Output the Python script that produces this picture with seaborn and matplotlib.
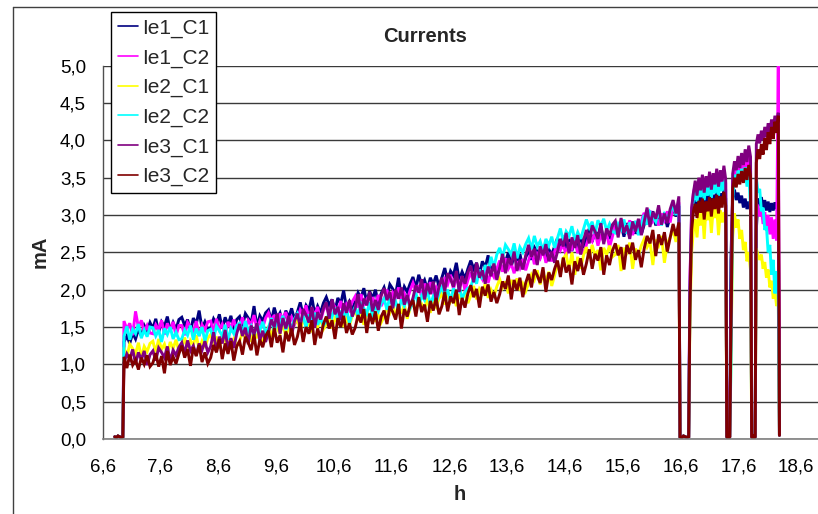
import numpy as np
import pandas as pd
import matplotlib
matplotlib.use("Agg")
import matplotlib.pyplot as plt
from matplotlib.lines import Line2D
import seaborn as sns

# ---- logged electrode currents (mA) over the day (h) ----
series_names = ["Ie1_C1", "Ie1_C2", "Ie2_C1", "Ie2_C2", "Ie3_C1", "Ie3_C2"]
series_colors = ["#000080", "#FF00FF", "#FFFF00", "#00FFFF", "#800080", "#800000"]

# time spans (h) of the four running periods and of the idle periods
run_spans = [(6.97, 16.57), (16.76, 17.38), (17.47, 17.81), (17.91, 18.29)]
idle_spans = [(6.81, 6.95), (16.59, 16.74), (17.40, 17.45), (17.83, 17.89)]
idle_level = [0.03, 0.02, 0.04, 0.03, 0.02, 0.03]
shutdown = (18.31, 0.05)

ie1_c1 = [
    [1.30, 1.38, 1.28, 1.42, 1.34, 1.47, 1.38, 1.52, 1.44, 1.56,
     1.48, 1.61, 1.43, 1.57, 1.51, 1.64, 1.45, 1.56, 1.47, 1.60,
     1.63, 1.52, 1.60, 1.44, 1.62, 1.54, 1.72, 1.48, 1.57, 1.47,
     1.49, 1.61, 1.54, 1.67, 1.48, 1.63, 1.53, 1.65, 1.46, 1.60,
     1.64, 1.51, 1.68, 1.62, 1.55, 1.78, 1.50, 1.65, 1.58, 1.69,
     1.73, 1.58, 1.76, 1.62, 1.69, 1.56, 1.72, 1.63, 1.75, 1.60,
     1.70, 1.83, 1.65, 1.79, 1.73, 1.90, 1.67, 1.78, 1.69, 1.82,
     1.90, 1.79, 1.87, 1.71, 1.89, 1.81, 1.99, 1.75, 1.84, 1.74,
     1.84, 1.96, 1.89, 2.02, 1.83, 1.98, 1.88, 2.00, 1.81, 1.95,
     2.03, 1.90, 2.07, 2.01, 1.94, 2.16, 1.89, 2.04, 1.97, 2.08,
     2.17, 2.02, 2.20, 2.06, 2.13, 2.00, 2.16, 2.07, 2.19, 2.04,
     2.16, 2.29, 2.11, 2.25, 2.19, 2.36, 2.13, 2.24, 2.15, 2.28,
     2.39, 2.28, 2.36, 2.20, 2.38, 2.30, 2.46, 2.24, 2.33, 2.23,
     2.32, 2.44, 2.37, 2.50, 2.31, 2.46, 2.36, 2.48, 2.29, 2.43,
     2.53, 2.40, 2.57, 2.51, 2.44, 2.59, 2.39, 2.54, 2.47, 2.58,
     2.69, 2.54, 2.72, 2.58, 2.65, 2.52, 2.68, 2.59, 2.71, 2.56,
     2.69, 2.82, 2.64, 2.78, 2.72, 2.85, 2.66, 2.77, 2.68, 2.81,
     2.90, 2.79, 2.87, 2.71, 2.89, 2.81, 2.91, 2.75, 2.84, 2.74,
     2.87, 2.99, 2.92, 3.05, 2.86, 3.01, 2.91, 3.03, 2.84, 2.98,
     3.09, 2.98, 3.12],
    [1.75, 2.85, 3.12, 3.20, 3.08, 3.24, 3.13, 3.28, 3.10, 3.26, 3.15,
     3.30, 3.12, 3.27, 3.18, 3.32, 3.14, 3.29, 3.20, 3.34, 3.22],
    [2.40, 3.25, 3.34, 3.20, 3.30, 3.16, 3.26, 3.10, 3.22, 3.08, 3.18, 3.06],
    [2.80, 3.22, 3.12, 3.24, 3.08, 3.20, 3.06, 3.18, 3.04, 3.16, 3.06, 3.17, 3.08, 3.18],
]

ie1_c2 = [
    [1.58, 1.47, 1.55, 1.39, 1.71, 1.49, 1.59, 1.43, 1.52, 1.42,
     1.41, 1.53, 1.46, 1.59, 1.40, 1.55, 1.45, 1.57, 1.38, 1.52,
     1.52, 1.39, 1.56, 1.50, 1.43, 1.58, 1.38, 1.53, 1.46, 1.57,
     1.58, 1.43, 1.61, 1.47, 1.54, 1.41, 1.57, 1.48, 1.60, 1.45,
     1.50, 1.63, 1.45, 1.59, 1.53, 1.66, 1.47, 1.58, 1.49, 1.62,
     1.69, 1.58, 1.66, 1.50, 1.68, 1.60, 1.70, 1.54, 1.63, 1.53,
     1.61, 1.73, 1.66, 1.79, 1.60, 1.75, 1.65, 1.77, 1.58, 1.72,
     1.79, 1.66, 1.83, 1.77, 1.70, 1.85, 1.65, 1.80, 1.73, 1.84,
     1.91, 1.76, 1.94, 1.80, 1.87, 1.74, 1.90, 1.81, 1.93, 1.78,
     1.87, 2.00, 1.82, 1.96, 1.90, 2.03, 1.84, 1.95, 1.86, 1.99,
     2.09, 1.98, 2.06, 1.90, 2.08, 2.00, 2.10, 1.94, 2.03, 1.93,
     2.02, 2.14, 2.07, 2.20, 2.01, 2.16, 2.06, 2.18, 1.99, 2.13,
     2.23, 2.10, 2.27, 2.21, 2.14, 2.29, 2.09, 2.24, 2.17, 2.28,
     2.39, 2.24, 2.42, 2.28, 2.35, 2.22, 2.38, 2.29, 2.41, 2.26,
     2.39, 2.52, 2.34, 2.48, 2.42, 2.55, 2.36, 2.47, 2.38, 2.51,
     2.64, 2.53, 2.61, 2.45, 2.63, 2.55, 2.65, 2.49, 2.58, 2.48,
     2.60, 2.72, 2.65, 2.78, 2.59, 2.74, 2.64, 2.76, 2.57, 2.71,
     2.87, 2.74, 2.91, 2.85, 2.78, 2.93, 2.73, 2.88, 2.81, 2.92,
     3.03, 2.88, 3.06, 2.92, 2.99, 2.86, 3.02, 2.93, 3.05, 2.90,
     3.14, 3.02, 3.17],
    [2.10, 3.05, 3.30, 3.40, 3.26, 3.44, 3.31, 3.47, 3.28, 3.46, 3.34,
     3.50, 3.32, 3.49, 3.37, 3.54, 3.35, 3.52, 3.40, 3.57, 3.43],
    [1.40, 3.40, 3.64, 3.52, 3.70, 3.56, 3.74, 3.60, 3.77, 3.63, 3.80, 3.66],
    [3.15, 3.12, 2.98, 3.10, 2.88, 3.04, 2.80, 3.00, 2.74, 2.97, 2.68, 2.94, 2.66, 5.00],
]

ie2_c1 = [
    [1.23, 1.10, 1.27, 1.21, 1.14, 1.29, 1.09, 1.24, 1.17, 1.28,
     1.31, 1.16, 1.34, 1.20, 1.27, 1.14, 1.30, 1.21, 1.33, 1.18,
     1.23, 1.36, 1.18, 1.32, 1.26, 1.39, 1.20, 1.31, 1.22, 1.35,
     1.40, 1.29, 1.37, 1.21, 1.39, 1.31, 1.41, 1.25, 1.34, 1.24,
     1.31, 1.43, 1.36, 1.49, 1.30, 1.45, 1.35, 1.47, 1.28, 1.42,
     1.50, 1.37, 1.54, 1.48, 1.41, 1.56, 1.36, 1.51, 1.44, 1.55,
     1.60, 1.45, 1.63, 1.49, 1.56, 1.43, 1.59, 1.50, 1.62, 1.47,
     1.53, 1.66, 1.48, 1.62, 1.56, 1.69, 1.50, 1.61, 1.52, 1.65,
     1.72, 1.61, 1.69, 1.53, 1.71, 1.63, 1.73, 1.57, 1.66, 1.56,
     1.64, 1.76, 1.69, 1.82, 1.63, 1.78, 1.68, 1.80, 1.61, 1.75,
     1.83, 1.70, 1.87, 1.81, 1.74, 1.89, 1.69, 1.84, 1.77, 1.88,
     1.95, 1.80, 1.98, 1.84, 1.91, 1.78, 1.94, 1.85, 1.97, 1.82,
     1.92, 2.05, 1.87, 2.01, 1.95, 2.08, 1.89, 2.00, 1.91, 2.04,
     2.14, 2.03, 2.11, 1.95, 2.13, 2.05, 2.15, 1.99, 2.08, 1.98,
     2.08, 2.20, 2.13, 2.26, 2.07, 2.22, 2.12, 2.24, 2.05, 2.19,
     2.35, 2.22, 2.42, 2.47, 2.26, 2.50, 2.20, 2.44, 2.28, 2.46,
     2.57, 2.42, 2.60, 2.46, 2.53, 2.26, 2.56, 2.47, 2.59, 2.44,
     2.47, 2.60, 2.25, 2.56, 2.50, 2.63, 2.28, 2.55, 2.46, 2.59,
     2.68, 2.57, 2.65, 2.33, 2.67, 2.59, 2.72, 2.36, 2.62, 2.70,
     2.80, 2.64, 2.84],
    [1.55, 2.50, 2.80, 2.94, 2.70, 3.02, 2.86, 3.07, 2.68, 3.10, 2.93,
     3.12, 2.76, 3.08, 2.96, 3.11, 2.73, 3.06, 2.90, 3.04, 2.86],
    [1.00, 2.70, 3.02, 2.83, 2.94, 2.68, 2.80, 2.53, 2.64, 2.38, 2.50, 2.26],
    [2.55, 2.46, 2.40, 2.47, 2.28, 2.37, 2.16, 2.27, 2.03, 2.12, 1.88, 2.00, 1.78, 1.90],
]

ie2_c2 = [
    [1.38, 1.51, 1.33, 1.47, 1.41, 1.54, 1.35, 1.46, 1.37, 1.50,
     1.49, 1.38, 1.46, 1.30, 1.48, 1.40, 1.50, 1.34, 1.43, 1.33,
     1.34, 1.46, 1.39, 1.52, 1.33, 1.48, 1.38, 1.50, 1.31, 1.45,
     1.47, 1.34, 1.51, 1.45, 1.38, 1.53, 1.33, 1.48, 1.41, 1.52,
     1.55, 1.40, 1.58, 1.44, 1.51, 1.38, 1.54, 1.45, 1.57, 1.42,
     1.49, 1.62, 1.44, 1.58, 1.52, 1.65, 1.46, 1.57, 1.48, 1.61,
     1.68, 1.57, 1.65, 1.49, 1.67, 1.59, 1.69, 1.53, 1.62, 1.52,
     1.58, 1.70, 1.63, 1.76, 1.57, 1.72, 1.62, 1.74, 1.55, 1.69,
     1.77, 1.64, 1.81, 1.75, 1.68, 1.83, 1.63, 1.78, 1.71, 1.82,
     1.88, 1.73, 1.91, 1.77, 1.84, 1.71, 1.87, 1.78, 1.90, 1.75,
     1.83, 1.96, 1.78, 1.92, 1.86, 1.99, 1.80, 1.91, 1.82, 1.95,
     2.03, 1.92, 2.00, 1.84, 2.02, 1.94, 2.04, 1.88, 1.97, 2.02,
     2.04, 2.16, 2.08, 2.27, 2.14, 2.33, 2.24, 2.44, 2.30, 2.47,
     2.56, 2.43, 2.60, 2.54, 2.47, 2.62, 2.42, 2.57, 2.50, 2.61,
     2.69, 2.54, 2.72, 2.58, 2.65, 2.52, 2.68, 2.59, 2.71, 2.56,
     2.69, 2.82, 2.64, 2.78, 2.72, 2.85, 2.66, 2.77, 2.68, 2.81,
     2.94, 2.83, 2.91, 2.75, 2.93, 2.85, 2.95, 2.79, 2.88, 2.78,
     2.76, 2.88, 2.81, 2.94, 2.75, 2.90, 2.80, 2.92, 2.73, 2.87,
     3.00, 2.87, 3.04, 2.98, 2.91, 3.06, 2.86, 3.01, 2.94, 3.05,
     3.12, 3.00, 3.14],
    [1.85, 2.95, 3.22, 3.32, 3.18, 3.37, 3.24, 3.40, 3.20, 3.38, 3.26,
     3.42, 3.23, 3.41, 3.29, 3.45, 3.26, 3.44, 3.32, 3.47, 3.34],
    [0.90, 3.20, 3.54, 3.43, 3.60, 3.46, 3.62, 3.48, 3.64, 3.38, 3.57, 3.10],
    [3.50, 3.30, 3.35, 3.05, 3.10, 2.80, 2.85, 2.50, 2.60, 2.20, 2.40, 1.95, 2.25, 1.90],
]

ie3_c1 = [
    [1.02, 1.14, 1.07, 1.20, 1.01, 1.16, 1.06, 1.18, 0.99, 1.13,
     1.18, 1.05, 1.22, 1.16, 1.09, 1.24, 1.04, 1.19, 1.12, 1.23,
     1.29, 1.14, 1.32, 1.18, 1.25, 1.12, 1.28, 1.19, 1.31, 1.16,
     1.24, 1.43, 1.17, 1.37, 1.28, 1.46, 1.20, 1.35, 1.22, 1.41,
     1.54, 1.38, 1.49, 1.27, 1.52, 1.40, 1.55, 1.32, 1.45, 1.30,
     1.43, 1.60, 1.50, 1.68, 1.41, 1.62, 1.48, 1.65, 1.39, 1.58,
     1.68, 1.50, 1.74, 1.66, 1.56, 1.77, 1.49, 1.70, 1.60, 1.75,
     1.83, 1.61, 1.87, 1.67, 1.77, 1.59, 1.82, 1.69, 1.86, 1.64,
     1.75, 1.94, 1.68, 1.88, 1.79, 1.97, 1.71, 1.86, 1.73, 1.92,
     2.02, 1.86, 1.97, 1.75, 2.00, 1.88, 2.03, 1.80, 1.93, 1.78,
     1.89, 2.06, 1.96, 2.14, 1.87, 2.08, 1.94, 2.11, 1.85, 2.04,
     2.16, 1.98, 2.22, 2.14, 2.04, 2.25, 1.97, 2.18, 2.08, 2.23,
     2.32, 2.10, 2.36, 2.16, 2.26, 2.08, 2.31, 2.18, 2.35, 2.13,
     2.29, 2.48, 2.22, 2.42, 2.33, 2.51, 2.25, 2.40, 2.27, 2.46,
     2.60, 2.44, 2.55, 2.33, 2.58, 2.46, 2.61, 2.38, 2.51, 2.36,
     2.51, 2.68, 2.58, 2.76, 2.49, 2.70, 2.56, 2.73, 2.47, 2.66,
     2.80, 2.62, 2.86, 2.78, 2.68, 2.89, 2.61, 2.82, 2.72, 2.87,
     2.92, 2.70, 2.96, 2.76, 2.86, 2.68, 2.91, 2.78, 2.95, 2.73,
     2.91, 3.10, 2.84, 3.04, 2.95, 3.13, 2.87, 3.02, 2.89, 3.08,
     3.20, 3.02, 3.25],
    [2.00, 3.10, 3.30, 3.46, 3.26, 3.50, 3.33, 3.54, 3.30, 3.52, 3.37,
     3.58, 3.34, 3.56, 3.41, 3.62, 3.38, 3.60, 3.45, 3.66, 3.48],
    [1.60, 3.55, 3.72, 3.60, 3.79, 3.63, 3.83, 3.67, 3.88, 3.71, 3.93, 3.78],
    [3.95, 4.08, 3.96, 4.13, 4.00, 4.18, 4.04, 4.23, 4.08, 4.28, 4.13, 4.33, 4.18, 4.37],
]

ie3_c2 = [
    [1.10, 0.95, 1.13, 0.99, 1.06, 0.93, 1.09, 1.00, 1.12, 0.97,
     1.02, 1.15, 0.97, 1.11, 0.88, 1.18, 0.99, 1.10, 1.01, 1.14,
     1.25, 1.09, 1.20, 0.98, 1.23, 1.11, 1.26, 1.03, 1.16, 1.01,
     1.09, 1.26, 1.16, 1.34, 1.07, 1.28, 1.14, 1.31, 1.05, 1.24,
     1.31, 1.13, 1.37, 1.29, 1.19, 1.40, 1.12, 1.33, 1.23, 1.38,
     1.45, 1.23, 1.49, 1.29, 1.39, 1.16, 1.44, 1.31, 1.48, 1.26,
     1.37, 1.56, 1.30, 1.50, 1.41, 1.59, 1.26, 1.48, 1.35, 1.54,
     1.64, 1.48, 1.59, 1.34, 1.62, 1.50, 1.65, 1.42, 1.55, 1.40,
     1.49, 1.66, 1.56, 1.74, 1.42, 1.68, 1.54, 1.71, 1.45, 1.64,
     1.72, 1.54, 1.78, 1.70, 1.60, 1.81, 1.48, 1.74, 1.64, 1.79,
     1.86, 1.64, 1.90, 1.70, 1.80, 1.57, 1.85, 1.72, 1.89, 1.67,
     1.78, 1.97, 1.71, 1.91, 1.82, 2.00, 1.66, 1.89, 1.76, 1.95,
     2.06, 1.90, 2.01, 1.76, 2.04, 1.92, 2.07, 1.84, 1.97, 1.82,
     1.94, 2.11, 2.01, 2.19, 1.87, 2.13, 1.99, 2.16, 1.90, 2.09,
     2.21, 2.03, 2.27, 2.19, 2.09, 2.30, 1.97, 2.23, 2.13, 2.28,
     2.39, 2.17, 2.43, 2.23, 2.33, 2.07, 2.38, 2.25, 2.42, 2.20,
     2.35, 2.54, 2.28, 2.48, 2.39, 2.57, 2.20, 2.46, 2.33, 2.52,
     2.62, 2.46, 2.57, 2.27, 2.60, 2.48, 2.63, 2.40, 2.53, 2.30,
     2.55, 2.72, 2.62, 2.80, 2.45, 2.74, 2.60, 2.77, 2.51, 2.70,
     2.88, 2.72, 2.90],
    [1.70, 2.80, 3.05, 3.15, 2.96, 3.19, 3.03, 3.22, 2.94, 3.18, 3.05,
     3.24, 2.98, 3.22, 3.08, 3.27, 3.02, 3.25, 3.10, 3.31, 3.13],
    [1.30, 3.35, 3.50, 3.37, 3.55, 3.41, 3.59, 3.43, 3.63, 3.47, 3.67, 3.52],
    [3.70, 3.88, 3.75, 3.95, 3.81, 4.03, 3.87, 4.11, 3.95, 4.18, 4.02, 4.25, 4.10, 4.33],
]

all_runs = [ie1_c1, ie1_c2, ie2_c1, ie2_c2, ie3_c1, ie3_c2]

x_ticks = [6.6, 7.6, 8.6, 9.6, 10.6, 11.6, 12.6, 13.6, 14.6, 15.6, 16.6, 17.6, 18.6]
y_ticks = [0.0, 0.5, 1.0, 1.5, 2.0, 2.5, 3.0, 3.5, 4.0, 4.5, 5.0]


def series_frame(name, runs):
    """Idle, run, idle, run ... samples of one channel as a long table."""
    t_parts, v_parts = [], []
    for (i0, i1), (r0, r1), run in zip(idle_spans, run_spans, runs):
        t_parts.append(np.linspace(i0, i1, len(idle_level)))
        v_parts.append(np.asarray(idle_level))
        t_parts.append(np.linspace(r0, r1, len(run)))
        v_parts.append(np.asarray(run))
    t_parts.append(np.array([shutdown[0]]))
    v_parts.append(np.array([shutdown[1]]))
    return pd.DataFrame({"h": np.concatenate(t_parts),
                         "mA": np.concatenate(v_parts),
                         "series": name})


df = pd.concat([series_frame(n, r) for n, r in zip(series_names, all_runs)],
               ignore_index=True)

sns.set_theme(style="white")
plt.rcParams["font.family"] = ["Liberation Sans", "DejaVu Sans"]

W, H = 818, 514
fig = plt.figure(figsize=(W / 100, H / 100), dpi=100)
ax_left, ax_right, ax_top, ax_bottom = 102.6, 818, 65.7, 439
ax = fig.add_axes([ax_left / W, 1 - ax_bottom / H,
                   (ax_right - ax_left) / W, (ax_bottom - ax_top) / H])

sns.lineplot(data=df, x="h", y="mA", hue="series", hue_order=series_names,
             palette=series_colors, estimator=None, errorbar=None, sort=False,
             linewidth=2.1, ax=ax, legend=False)
for line in ax.get_lines():
    line.set_solid_joinstyle("miter")

ax.set_xlim(6.6, 6.6 + (ax_right - ax_left) / 57.8)
ax.set_ylim(0, 5.0)
ax.set_xticks(x_ticks)
ax.set_xticklabels([f"{v:.1f}".replace(".", ",") for v in x_ticks])
ax.set_yticks(y_ticks)
ax.set_yticklabels([f"{v:.1f}".replace(".", ",") for v in y_ticks])
ax.tick_params(axis="both", which="major", direction="out", length=5,
               width=1, color="#404040", labelsize=13.5, labelcolor="black")
ax.tick_params(axis="x", pad=9)
ax.tick_params(axis="y", pad=7)
ax.set_xlabel("")
ax.set_ylabel("")

ax.yaxis.grid(True, color="#3a3a3a", linewidth=1.0)
ax.xaxis.grid(False)
ax.set_axisbelow(True)
for side in ("top", "right"):
    ax.spines[side].set_visible(False)
ax.spines["left"].set_color("#505050")
ax.spines["bottom"].set_color("#808080")
ax.spines["left"].set_linewidth(1.0)
ax.spines["bottom"].set_linewidth(1.2)

handles = [Line2D([0], [0], color=c, lw=1.2) for c in series_colors]
leg = ax.legend(handles, series_names, loc="upper left",
                bbox_to_anchor=(111 / W, 1 - 12 / H), bbox_transform=fig.transFigure,
                frameon=True, fancybox=False, framealpha=1, edgecolor="black",
                fontsize=15, handlelength=0.96, handletextpad=0.22,
                labelspacing=0.5, borderpad=0.32, borderaxespad=0)
leg.get_frame().set_linewidth(1.0)

fig.text(425 / W, 1 - 37 / H, "Currents", ha="center", va="center",
         fontsize=14.5, fontweight="bold")
fig.text(40 / W, 1 - 252 / H, "mA", ha="center", va="center", rotation=90,
         fontsize=14.5, fontweight="bold")
fig.text(460 / W, 1 - 494 / H, "h", ha="center", va="center",
         fontsize=14.5, fontweight="bold")

# chart-area frame
fig.add_artist(Line2D([13 / W, 13 / W], [0, 1 - 7 / H], transform=fig.transFigure,
                      color="#404040", lw=1.0))
fig.add_artist(Line2D([13 / W, 1], [1 - 7 / H, 1 - 7 / H], transform=fig.transFigure,
                      color="#404040", lw=1.0))

fig.savefig("out.png", dpi=100)
